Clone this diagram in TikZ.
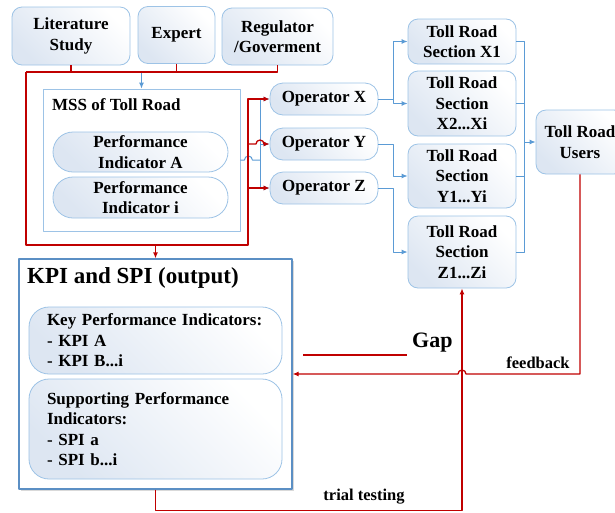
\documentclass[tikz,border=0pt]{standalone}
\usepackage{fontspec}
\setmainfont{Liberation Serif}
\usetikzlibrary{arrows.meta,shadows}
\definecolor{linered}{HTML}{C00000}
\definecolor{lineblue}{HTML}{5B9BD5}
\definecolor{boxedge}{HTML}{9DC3E6}
\definecolor{boxfill}{HTML}{DDE6F2}
\definecolor{kpiedge}{HTML}{5B8FC4}
\begin{document}
\begin{tikzpicture}[x=1pt,y=-1pt,line join=round,>={Latex[length=6pt,width=5pt]}]
	\tikzset{txt/.style={font=\fontsize{17}{20.5}\selectfont\bfseries,align=center},
		box/.style={txt,draw=boxedge,line width=0.8pt,rounded corners=10pt,top color=boxfill,bottom color=white,shading angle=135,inner sep=2pt},
		pill/.style={box,rounded corners=13pt},
		frame/.style={draw=boxedge,line width=0.8pt,fill=white},
		redline/.style={draw=linered,line width=1.3pt},
		blueline/.style={draw=lineblue,line width=1pt},
		lbl/.style={font=\fontsize{16.5}{19}\selectfont\bfseries,inner sep=0}}
	\useasboundingbox (0,0) rectangle (615,512);
	\node[box,minimum width=118,minimum height=58] (lit) at (71,36) {Literature\\Study};
	\node[box,minimum width=77,minimum height=57] (exp) at (176.5,35) {Expert};
	\node[box,minimum width=111,minimum height=57] (reg) at (277.5,36.5) {Regulator\\/Goverment};
	\node[frame,minimum width=197,minimum height=142] (mss) at (141.5,160) {};
	\node[txt,anchor=west,inner sep=0] (msstitle) at (52,105) {MSS of Toll Road};
	\node[pill,rounded corners=20pt,minimum width=175,minimum height=40] (pia) at (140.5,152) {Performance\\Indicator A};
	\node[pill,rounded corners=20pt,minimum width=175,minimum height=41] (pii) at (140.5,197.5) {Performance\\Indicator i};
	\node[pill,minimum width=108,minimum height=32] (opx) at (324,99) {Operator X};
	\node[pill,minimum width=108,minimum height=32] (opy) at (324,144) {Operator Y};
	\node[pill,minimum width=108,minimum height=32] (opz) at (324,188) {Operator Z};
	\node[box,minimum width=108,minimum height=45] (sx1) at (462,41.5) {Toll Road\\Section X1};
	\node[box,minimum width=108,minimum height=65] (sx2) at (462,103.5) {Toll Road\\Section\\X2...Xi};
	\node[box,minimum width=108,minimum height=64] (sy) at (462,176) {Toll Road\\Section\\Y1...Yi};
	\node[box,minimum width=108,minimum height=72] (sz) at (462,252) {Toll Road\\Section\\Z1...Zi};
	\node[box,minimum width=88,minimum height=64] (users) at (580,142) {Toll Road\\Users};
	\node[draw=kpiedge,line width=1.2pt,fill=white,drop shadow={opacity=0.3,shadow xshift=1.5pt,shadow yshift=-2pt},minimum width=273,minimum height=230] (kpi) at (155.5,374) {};
	\node[font=\fontsize{23}{27}\selectfont\bfseries,anchor=west,inner sep=0] (kpititle) at (27,278) {KPI and SPI (output)};
	\node[box,rounded corners=20pt,minimum width=253,minimum height=67,text width=217pt,inner xsep=18pt,align=left] (kpilist) at (155.5,340.5) {Key Performance Indicators:\\- KPI A\\- KPI B...i};
	\node[box,rounded corners=20pt,minimum width=253,minimum height=100,text width=217pt,inner xsep=18pt,align=left] (spilist) at (155.5,429) {Supporting Performance\\Indicators:\\- SPI a\\- SPI b...i};
	\node[font=\fontsize{22}{26}\selectfont\bfseries,anchor=west,inner sep=0] (gap) at (412,343) {Gap};
	\node[lbl] (fb) at (538,363) {feedback};
	\node[lbl] (trial) at (364,497) {trial testing};
	\coordinate (rtop) at (26,72);
	\coordinate (rbot) at (26,245);
	\coordinate (rcor) at (248,245);
	\coordinate (bsplit) at (260,160);
	\coordinate (xsplit) at (393,99);
	\coordinate (ujoin) at (524,142);
	\coordinate (gapa) at (303,355);
	\coordinate (gapb) at (407,355);
	\draw[blueline,->] (mss.north |- rtop) -- (mss.north);
	\draw[blueline] (mss.east) -- ++(4,0) arc[start angle=180,end angle=0,radius=4pt] -- (bsplit);
	\draw[blueline,->] (bsplit) |- (opx.west);
	\draw[blueline,->] (bsplit) |- (opy.west);
	\draw[blueline,->] (bsplit) |- (opz.west);
	\draw[blueline] (opx.east) -- (xsplit);
	\draw[blueline,->] (xsplit) |- (sx1.west);
	\draw[blueline,->] (xsplit) |- (sx2.west);
	\draw[blueline,->] (opy.east) -- ++(15,0) |- (sy.west);
	\draw[blueline,->] (opz.east) -- ++(15,0) |- (sz.west);
	\foreach \s in {sx1,sx2,sy,sz} \draw[blueline] (\s.east) -| (ujoin);
	\draw[blueline,->] (ujoin) -- (users.west);
	\draw[redline] (lit.south) -- (lit.south |- rtop) (exp.south) -- (exp.south |- rtop) (reg.south) -- (reg.south |- rtop) -- (rtop);
	\draw[redline,->] (rtop) -- (rbot) -- (rcor) |- (opx.west);
	\draw[redline,->] (rcor |- opy.west) -- ++(8,0) arc[start angle=180,end angle=0,radius=4pt] -- (opy.west);
	\draw[redline,->] (rcor |- opz.west) -- (opz.west);
	\draw[redline,->] (kpi.north |- rbot) -- (kpi.north);
	\draw[redline,->] (users.south) |- (466,374) arc[start angle=0,end angle=180,radius=4pt] -- (kpi.east);
	\draw[redline,->] (kpi.south) -- ++(0,21) -| (sz.south);
	\draw[redline] (gapa) -- (gapb);
\end{tikzpicture}
\end{document}
